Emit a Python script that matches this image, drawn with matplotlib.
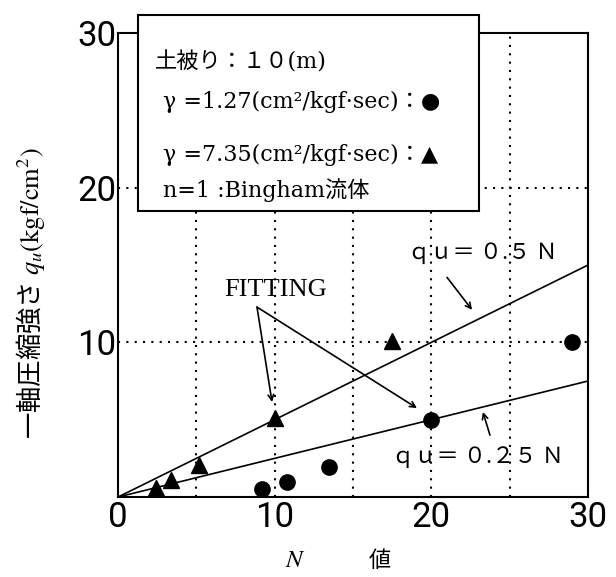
import matplotlib
matplotlib.use('Agg')
from matplotlib import pyplot as plt
from matplotlib.patches import Rectangle

plt.rcParams['font.family'] = ['Roboto', 'Noto Sans CJK JP']
plt.rcParams['mathtext.fontset'] = 'stix'

# gamma = 7.35 (triangles)
tri_n = [2.4, 3.4, 5.2, 10.0, 17.5]
tri_qu = [0.6, 1.1, 2.1, 5.1, 10.1]
# gamma = 1.27 (circles)
cir_n = [9.2, 10.8, 13.45, 20.0, 29.0]
cir_qu = [0.5, 0.95, 1.95, 5.0, 10.0]
# fitting lines qu = 0.5N and qu = 0.25N
fit_n = [0, 30]
fit_hi = [0, 15]
fit_lo = [0, 7.5]

xticks = [0, 10, 20, 30]
yticks = [10, 20, 30]
grid_x = [5, 10, 15, 20, 25]
grid_y = [10, 20]

box_lines = ['土被り：１０(m)',
             'γ =1.27(cm²/kgf·sec)：●',
             'γ =7.35(cm²/kgf·sec)：▲',
             'n=1 :Bingham流体']

SERIF = ['DejaVu Serif', 'Noto Sans CJK JP']
CJK = ['Noto Sans CJK JP', 'DejaVu Sans']

fig = plt.figure(figsize=(6.16, 5.77), dpi=100)
ax = fig.add_axes([0.1916, 0.1386, 0.763, 0.8042])

for gx in grid_x:
    ax.axvline(gx, color='k', ls=(0, (1, 3)), lw=1.5, zorder=1)
for gy in grid_y:
    ax.axhline(gy, color='k', ls=(0, (1, 3)), lw=1.5, zorder=1)

ax.plot(fit_n, fit_hi, color='k', lw=1.2, zorder=2)
ax.plot(fit_n, fit_lo, color='k', lw=1.2, zorder=2)
ax.plot(tri_n, tri_qu, '^', color='k', ms=11, zorder=3)
ax.plot(cir_n, cir_qu, 'o', color='k', ms=11, zorder=3)

ax.set_xlim(0, 30)
ax.set_ylim(0, 30)
ax.set_xticks(xticks)
ax.set_yticks(yticks)
ax.tick_params(length=0, labelsize=25)
ax.tick_params(axis='x', pad=3)
ax.tick_params(axis='y', pad=1)
for sp in ax.spines.values():
    sp.set_linewidth(1.5)

# legend-like box
box = Rectangle((0.0426, 0.616), 0.7254, 0.423, transform=ax.transAxes,
                facecolor='white', edgecolor='k', lw=1.5, zorder=4, clip_on=False)
ax.add_patch(box)
box_x = [0.0787, 0.0957, 0.0957, 0.0957]
box_y = [0.9375, 0.851, 0.737, 0.662]
for tx, ty, s in zip(box_x, box_y, box_lines):
    ax.text(tx, ty, s, transform=ax.transAxes, family=SERIF, fontsize=16,
            va='center', ha='left', zorder=5)

# fitting annotations
ax.text(10.05, 13.4, 'FITTING', family='Liberation Serif', fontsize=19,
        ha='center', va='center', zorder=5)
arrow = dict(arrowstyle='->', lw=1.2, color='k', shrinkA=0, shrinkB=0)
ax.annotate('', xy=(9.83, 6.14), xytext=(8.87, 12.28), arrowprops=arrow)
ax.annotate('', xy=(19.08, 5.75), xytext=(8.87, 12.28), arrowprops=arrow)

ax.text(18.5, 15.8, 'ｑｕ＝ ０.５ Ｎ', family=CJK, fontsize=16, va='center', ha='left')
ax.annotate('', xy=(22.6, 12.1), xytext=(21.0, 14.2), arrowprops=arrow)
ax.text(17.5, 2.65, 'ｑｕ＝ ０.２５ Ｎ', family=CJK, fontsize=16, va='center', ha='left')
ax.annotate('', xy=(23.29, 5.5), xytext=(23.74, 4.0), arrowprops=arrow)

# axis labels
fig.text(0.049, 0.492, '一軸圧縮強さ $q_u\\mathrm{(kgf/cm^2)}$', rotation=90,
         ha='center', va='center', family='Noto Sans CJK JP', fontsize=19)
ax.text(0.377, -0.136, '$N$', transform=ax.transAxes, fontsize=18,
        ha='center', va='center')
ax.text(0.557, -0.136, '値', transform=ax.transAxes, family=CJK, fontsize=16,
        ha='center', va='center')

fig.savefig('out.png', dpi=100)
